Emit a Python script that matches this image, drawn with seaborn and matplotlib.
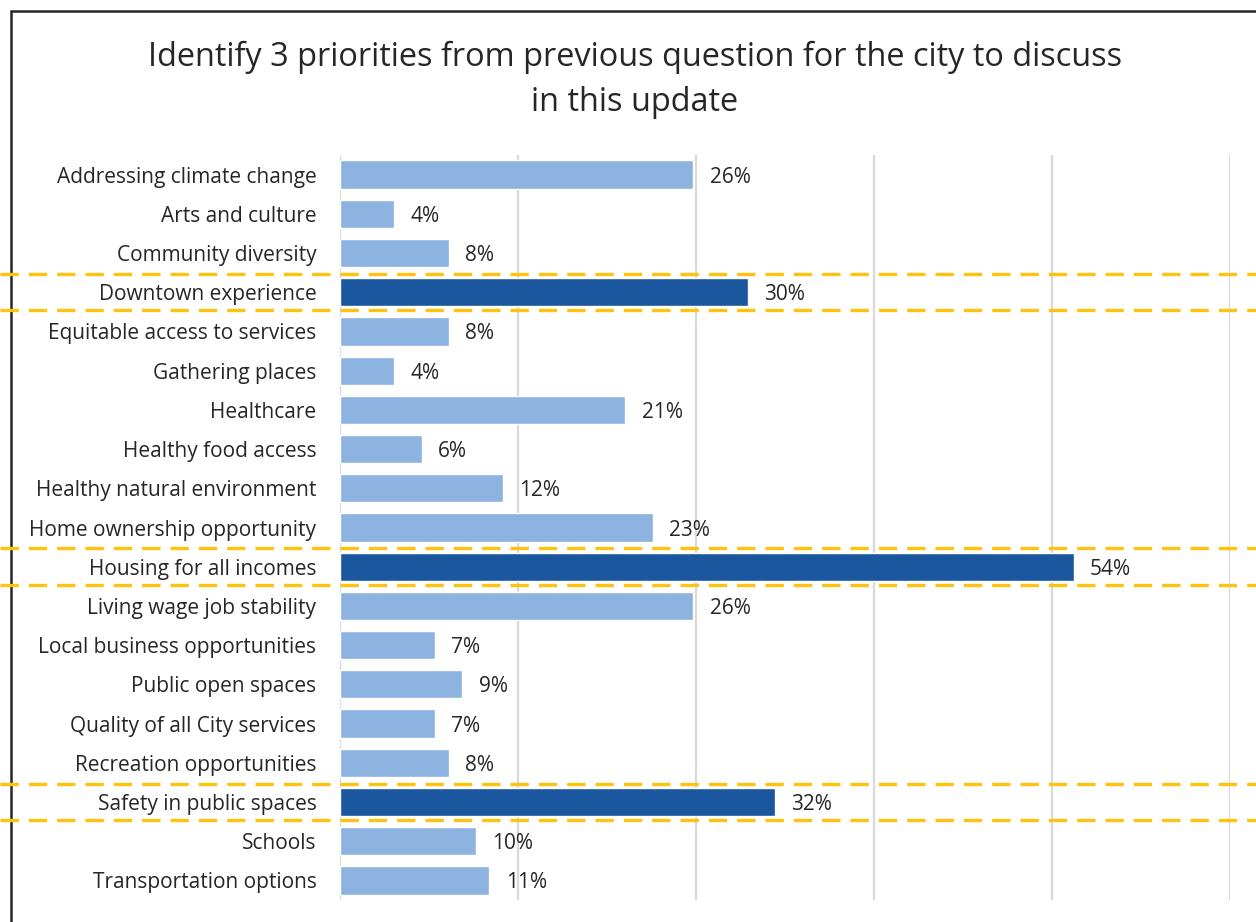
import matplotlib
matplotlib.use("Agg")
import matplotlib.pyplot as plt
import matplotlib.transforms as mtransforms
from matplotlib.patches import Rectangle
from matplotlib.lines import Line2D
import numpy as np
import pandas as pd
import seaborn as sns

categories = [
    "Addressing climate change", "Arts and culture", "Community diversity",
    "Downtown experience", "Equitable access to services", "Gathering places",
    "Healthcare", "Healthy food access", "Healthy natural environment",
    "Home ownership opportunity", "Housing for all incomes",
    "Living wage job stability", "Local business opportunities",
    "Public open spaces", "Quality of all City services",
    "Recreation opportunities", "Safety in public spaces", "Schools",
    "Transportation options",
]
values = [26, 4, 8, 30, 8, 4, 21, 6, 12, 23, 54, 26, 7, 9, 7, 8, 32, 10, 11]
top_three = ["Downtown experience", "Housing for all incomes", "Safety in public spaces"]
title = "Identify 3 priorities from previous question for the city to discuss\nin this update"

df = pd.DataFrame({"category": categories, "share": np.array(values) / 100.0})
df["group"] = np.where(df["category"].isin(top_three), "top", "other")

sns.set_theme(style="white")
plt.rcParams["font.family"] = ["Open Sans", "DejaVu Sans"]

fig = plt.figure(figsize=(12.56, 9.22), dpi=100)
W, H = 1256, 922
ax = fig.add_axes([340 / W, 1 - 900 / H, 890 / W, (900 - 155) / H])

sns.barplot(data=df, y="category", x="share", hue="group",
            palette={"other": "#8DB3E0", "top": "#1A579F"},
            dodge=False, width=0.72, legend=False, ax=ax, saturation=1)

ax.set_xlim(0, 0.655)
ax.set_ylim(len(categories) - 0.5, -0.5)
ax.set_xticks(np.linspace(0, 0.655, 6))
ax.set_xticklabels([])
ax.grid(axis="x", color="#D9D9D9", linewidth=1.6)
ax.grid(axis="y", visible=False)
ax.set_axisbelow(True)
for s in ax.spines.values():
    s.set_visible(False)
ax.tick_params(axis="both", length=0)
ax.tick_params(axis="y", labelsize=15, colors="#262626", pad=17)
for lbl in ax.get_yticklabels():
    lbl.set_verticalalignment("center_baseline")
ax.set_xlabel("")
ax.set_ylabel("")

for i, v in enumerate(values):
    ax.text(v / 100.0 + 0.012, i, f"{v}%", va="center_baseline", ha="left",
            fontsize=15, color="#262626")

# gold dashed outlines around the top three priorities, spanning the figure width
blend = mtransforms.blended_transform_factory(fig.transFigure, ax.transData)
for cat in top_three:
    idx = categories.index(cat)
    for off in (-0.465, 0.465):
        fig.add_artist(Line2D([0, 1], [idx + off, idx + off], transform=blend,
                              color="#FFC20E", linewidth=2.4,
                              dashes=(5.5, 3.0)))

fig.text(635 / W, 1 - 80 / H, title, ha="center", va="center",
         fontsize=23.4, color="#262626", linespacing=1.5)

# outer frame
fig.add_artist(Rectangle((11 / W, -0.1), 1.2, 1 - 11 / H + 0.1,
                         transform=fig.transFigure, fill=False,
                         edgecolor="#262626", linewidth=1.8))

fig.savefig("out.png", dpi=100, facecolor="white")
